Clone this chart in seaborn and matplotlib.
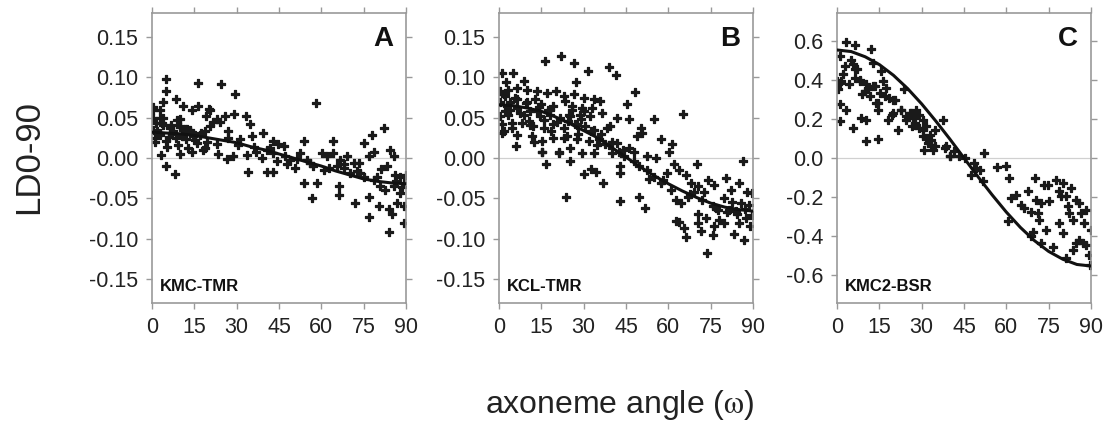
import matplotlib
matplotlib.use('Agg')
import matplotlib.pyplot as plt
import pandas as pd
import seaborn as sns

# ---- panel A: KMC-TMR ----
a_angle = [4.9, 5.0, 16.4, 24.4, 29.4, 58.2, 3.9, 8.6, 0.4, 2.7, 11, 14, 16.4, 20.3, 25.8, 29.1, 33.3, 34.7,
           0.4, 3.9, 9.8, 19.3, 22.9, 0.4, 2.7, 6.3, 9.8, 13.4, 15.2, 17.5, 20.5, 0.95, 5.1, 8.6, 12.2, 15.8,
           22.9, 27, 31.2, 35.3, 39.2, 43, 44.8, 46.6, 3.3, 9.8, 14, 18.1, 23.5, 26.4, 28.8, 33.5, 37, 38.9,
           40.6, 43, 44.2, 5.1, 8.1, 34.1, 40.6, 43, 47.8, 50.7, 53.7, 52.5, 56, 57.2, 53.7, 58.4, 56.6, 60.2,
           62, 64.3, 64.3, 66.7, 67.9, 69, 66.1, 66.1, 65.5, 71.4, 73.2, 75, 78, 82.1, 78.7, 76.8, 73.8, 75,
           72, 76.8, 76.8, 80.3, 79.7, 80.9, 83.3, 84.5, 85.7, 83.9, 85, 83.9, 86.9, 89.2, 89.2, 88, 89.2, 90,
           86.2, 82.7, 88, 85.7, 70.2, 78.6, 60.8, 49, 1.5, 6.8, 12.5, 18.8, 3.0, 7.5, 10.6, 14.6,
           0.5, 2.8, 4.0, 1.7, 1.0, 5.2, 8.7, 9.9, 10.5, 9.3, 13.5, 15.2, 17.0, 18.8, 20.5, 21.6, 24.0,
           7.2, 11.8, 3.5, 6.0, 12.9, 19.6, 26.8, 30.5, 36.2, 41.8, 47.0, 51.5, 55.0, 62.8, 68.0, 72.5, 81.0,
           86.5, 88.5]
a_ld = [0.098, 0.083, 0.093, 0.092, 0.079, 0.068, 0.070, 0.073, 0.063, 0.060, 0.065, 0.060, 0.065, 0.061,
        0.052, 0.055, 0.052, 0.042, 0.050, 0.050, 0.048, 0.052, 0.048, 0.035, 0.031, 0.0375, 0.040, 0.035,
        0.029, 0.031, 0.040, 0.025, 0.021, 0.025, 0.023, 0.019, 0.017, 0.025, 0.023, 0.027, 0.031, 0.021,
        0.017, 0.015, 0.004, 0.005, 0.008, 0.010, 0.005, -0.001, 0.002, 0.004, 0.008, 0.000, 0.010, 0.006,
        -0.004, -0.010, -0.020, -0.017, -0.017, -0.017, -0.008, -0.0125, 0.021, 0.006, -0.006, -0.010,
        -0.031, -0.031, -0.050, 0.006, 0.002, 0.021, 0.006, -0.002, -0.008, 0.002, -0.035, -0.046, -0.010,
        -0.006, -0.006, 0.019, 0.029, 0.0375, 0.008, 0.002, -0.019, -0.023, -0.056, -0.048, -0.073, -0.060,
        -0.023, -0.035, -0.010, 0.010, 0.002, -0.063, -0.069, -0.092, -0.056, -0.060, -0.081, -0.044,
        -0.031, -0.021, -0.021, -0.040, -0.023, -0.035, -0.019, -0.027, -0.015, -0.002, 0.044, 0.041,
        0.036, 0.033, 0.028, 0.034, 0.030, 0.027,
        0.060, 0.050, 0.041, 0.033, 0.020, 0.014, 0.0475, 0.039, 0.027, 0.016, 0.033, 0.0225, 0.029, 0.012,
        0.060, 0.045, 0.045, 0.030, 0.036, 0.044, 0.026, 0.012, 0.020, 0.033, 0.016, 0.014, 0.012, 0.002,
        -0.001, -0.003, -0.012, -0.012, -0.016, -0.014, -0.028, -0.036]
a_fit_angle = [0, 5, 10, 15, 20, 25, 30, 35, 40, 45, 50, 55, 60, 65, 70, 75, 80, 85, 90]
a_fit = [0.032, 0.031, 0.030, 0.028, 0.025, 0.022, 0.019, 0.014, 0.010, 0.005, 0.000, -0.005, -0.010,
         -0.016, -0.021, -0.026, -0.029, -0.031, -0.032]

# ---- panel B: KCL-TMR ----
b_angle = [0.9, 5.1, 16.4, 21.9, 26.7, 31.6, 38.9, 41.3, 27.4, 2.5, 8.7, 0.4, 3.3, 6.3, 9.8, 13.4, 17, 20.3,
           22.9, 26.4, 30, 33.5, 35.8, 48.2, 45.4, 0.4, 2.7, 6.3, 9.8, 12.7, 15, 19.1, 23.3, 25.7, 29.4, 32.9,
           0.4, 3.3, 7.5, 11.1, 14.6, 18.2, 21.7, 25.3, 28.8, 32.4, 36.5, 41.9, 46, 54.9, 65.2, 1, 4.5, 8.1,
           12.2, 15.8, 19.3, 22.9, 27, 30.6, 33.6, 39.5, 50.2, 1, 6.3, 11.6, 15.2, 19.3, 24, 27.5, 31.8, 35.3,
           37.7, 41.9, 46, 49, 50.8, 57.3, 61.4, 6, 15.2, 21.1, 25.3, 29.4, 33.6, 40.1, 44.3, 47.8, 52.5, 55.5,
           60.2, 16.7, 25, 30, 32.6, 34.5, 36.9, 42.8, 43, 49.6, 52.5, 54.9, 57.3, 59.7, 62, 63.8, 66.2, 70.1,
           68, 70.4, 72.7, 73.9, 76.3, 23.7, 42.7, 49.6, 51.7, 62.7, 64.4, 66.8, 69.2, 62.7, 63.8, 65.6, 66.2,
           70.4, 70.4, 71.5, 73.3, 73.7, 75.7, 76.3, 76, 77.5, 78.1, 86.6, 80.3, 82.1, 85, 88, 89.8, 79.7,
           82.7, 85.6, 88.6, 80.9, 84.4, 87.4, 89.8, 79.7, 83.2, 86.8, 88.9, 85, 2.0, 4.0, 10.5, 14.0, 18.0,
           24.5, 28.0, 36.0, 39.0, 44.0, 48.0, 53.0, 58.0, 61.0, 67.5, 72.0, 77.0, 81.5, 84.0, 87.0,
           1.7, 4.0, 2.2, 6.4, 8.8, 4.6, 1.7, 11.1, 13.5, 15.9, 12.3, 18.3, 20.6, 23.0, 24.8, 27.7, 30.1, 32.5,
           34.9, 38.4, 40.2, 42.6, 15.3, 21.2, 5.5, 9.5, 17.5, 26.0, 29.0]
b_ld = [0.106, 0.105, 0.121, 0.127, 0.118, 0.1075, 0.1125, 0.103, 0.094, 0.094, 0.096, 0.083, 0.085, 0.0875,
        0.085, 0.083, 0.081, 0.083, 0.077, 0.079, 0.075, 0.073, 0.071, 0.082, 0.0667, 0.069, 0.065, 0.073,
        0.069, 0.073, 0.067, 0.065, 0.071, 0.065, 0.0625, 0.0625, 0.052, 0.054, 0.056, 0.058, 0.052, 0.054,
        0.050, 0.052, 0.054, 0.052, 0.056, 0.050, 0.048, 0.048, 0.055, 0.042, 0.0375, 0.044, 0.040, 0.0375,
        0.042, 0.0375, 0.042, 0.040, 0.035, 0.040, 0.0375, 0.031, 0.029, 0.027, 0.021, 0.025, 0.027, 0.023,
        0.021, 0.023, 0.017, 0.019, 0.0125, 0.027, 0.031, 0.023, 0.017, 0.015, 0.008, 0.006, 0.0125, 0.006,
        0.006, 0.006, 0.002, 0.008, 0.002, 0.000, 0.008, -0.0075, -0.004, -0.0196, -0.014, -0.017, -0.031,
        -0.019, -0.010, -0.010, -0.015, -0.023, -0.031, -0.019, -0.008, -0.015, -0.021, -0.008, -0.031,
        -0.035, -0.042, -0.027, -0.033, -0.049, -0.053, -0.048, -0.062, -0.052, -0.056, -0.048, -0.042,
        -0.078, -0.079, -0.0875, -0.098, -0.069, -0.081, -0.090, -0.075, -0.1175, -0.060, -0.085, -0.096,
        -0.065, -0.077, -0.004, -0.025, -0.040, -0.031, -0.042, -0.044, -0.050, -0.054, -0.056, -0.058,
        -0.067, -0.069, -0.075, -0.071, -0.081, -0.094, -0.102, -0.085, -0.081, 0.077, 0.060, 0.046, 0.063,
        0.060, 0.046, 0.030, 0.030, 0.016, 0.010, -0.004, -0.026, -0.027, -0.040, -0.045, -0.052, -0.062,
        -0.064, -0.066, -0.063,
        0.079, 0.070, 0.058, 0.062, 0.054, 0.043, 0.033, 0.041, 0.058, 0.0475, 0.020, 0.033, 0.045, 0.025,
        0.054, 0.041, 0.058, 0.033, 0.016, 0.037, 0.020, 0.008, 0.008, 0.008, 0.075, 0.068, 0.060, 0.060,
        0.048]
b_fit_angle = [0, 5, 10, 15, 20, 25, 30, 35, 40, 45, 50, 55, 60, 65, 70, 75, 80, 85, 90]
b_fit = [0.066, 0.065, 0.062, 0.058, 0.051, 0.043, 0.034, 0.025, 0.013, 0.001, -0.011, -0.022, -0.032,
         -0.041, -0.049, -0.056, -0.061, -0.064, -0.066]

# ---- panel C: KMC2-BSR ----
c_angle = [3.3, 6.3, 12.1, 0.9, 5.1, 5.7, 7.1, 12.7, 15.7, 0, 1.5, 4.4, 6.3, 8, 10.4, 12.7, 16.3, 17.5, 0.4,
           0.9, 3.3, 0.9, 5.7, 8.6, 10.4, 10.4, 14.5, 9.8, 11.6, 13.9, 15.1, 18.6, 20.4, 14.5, 18, 20, 21.6,
           22.8, 23.9, 24.5, 26.3, 26.9, 27.5, 28.1, 29.2, 30.4, 31.6, 29.2, 30.4, 31, 32.2, 33.4, 34, 34.6,
           37.5, 38.7, 39.9, 41.6, 43.4, 45.2, 47.5, 48.7, 49.3, 50.5, 52.2, 51.7, 56.6, 59.9, 61.1, 61.7,
           63.4, 60.5, 65.2, 66.4, 67.6, 68.8, 70, 70.5, 71.3, 71.7, 72.3, 73.5, 74.6, 75.2, 74, 72.3, 77.6,
           78.8, 79.4, 80, 81.1, 81.7, 82.3, 82.9, 78.8, 80, 83.5, 84.7, 85.8, 86.4, 87.6, 88.2, 84.7, 83.5,
           85.8, 87, 88.2, 89.4, 89.6, 90, 81.1, 76.4, 69.3, 68.8, 2.0, 8.8, 19.5, 25.2, 27.8, 33.0,
           2.8, 6.4, 1.1, 8.1, 11.0, 13.4, 14.6, 17.0, 19.9, 22.8, 24.6, 25.8, 27.5, 26.4, 30.5, 31.7, 33.4,
           34.6, 38.1, 39.9]
c_ld = [0.597, 0.579, 0.561, 0.524, 0.506, 0.481, 0.455, 0.489, 0.446, 0.395, 0.395, 0.378, 0.412, 0.403,
        0.378, 0.369, 0.395, 0.361, 0.352, 0.275, 0.249, 0.189, 0.155, 0.206, 0.197, 0.086, 0.098, 0.343,
        0.318, 0.283, 0.335, 0.309, 0.300, 0.249, 0.197, 0.232, 0.146, 0.249, 0.352, 0.215, 0.232, 0.206,
        0.180, 0.249, 0.223, 0.197, 0.163, 0.155, 0.112, 0.043, 0.077, 0.094, 0.043, 0.060, 0.197, 0.060,
        0.009, 0.034, 0.009, 0.000, -0.086, -0.026, -0.052, -0.060, 0.026, -0.120, -0.046, -0.043, -0.103,
        -0.206, -0.189, -0.326, -0.240, -0.258, -0.172, -0.275, -0.103, -0.215, -0.283, -0.318, -0.232,
        -0.137, -0.137, -0.223, -0.369, -0.438, -0.112, -0.172, -0.197, -0.129, -0.197, -0.249, -0.283,
        -0.155, -0.335, -0.386, -0.318, -0.215, -0.232, -0.283, -0.335, -0.266, -0.438, -0.472, -0.421,
        -0.438, -0.446, -0.498, -0.549, -0.369, -0.515, -0.455, -0.378, -0.403, 0.43, 0.33, 0.22, 0.21,
        0.17, 0.12,
        0.472, 0.455, 0.386, 0.394, 0.352, 0.369, 0.283, 0.317, 0.300, 0.249, 0.197, 0.232, 0.214, 0.163,
        0.146, 0.103, 0.068, 0.146, 0.051, 0.008]
c_fit_angle = [0, 5, 10, 15, 20, 25, 30, 35, 40, 45, 50, 55, 60, 65, 70, 75, 80, 85, 90]
c_fit = [0.555, 0.547, 0.520, 0.480, 0.425, 0.357, 0.278, 0.190, 0.097, 0.000, -0.097, -0.190, -0.278,
         -0.357, -0.425, -0.480, -0.520, -0.547, -0.555]

panels = [
    ('A', 'KMC-TMR', a_angle, a_ld, a_fit_angle, a_fit, (-0.18, 0.18), [-0.15, -0.10, -0.05, 0.00, 0.05, 0.10, 0.15], '{:.2f}'),
    ('B', 'KCL-TMR', b_angle, b_ld, b_fit_angle, b_fit, (-0.18, 0.18), [-0.15, -0.10, -0.05, 0.00, 0.05, 0.10, 0.15], '{:.2f}'),
    ('C', 'KMC2-BSR', c_angle, c_ld, c_fit_angle, c_fit, (-0.745, 0.745), [-0.6, -0.4, -0.2, 0.0, 0.2, 0.4, 0.6], '{:.1f}'),
]
lefts = [152, 499, 837]


def draw_panel(ax, letter, name, x, y, fx, fy, ylim, yticks, fmt):
    pts = pd.DataFrame({'angle': x, 'ld': y})
    fit = pd.DataFrame({'angle': fx, 'ld': fy})
    ax.axhline(0, color='#d0d0d0', lw=0.9, zorder=0)
    sns.scatterplot(data=pts, x='angle', y='ld', marker='P', s=26, color='#1a1a1a',
                    edgecolor='#1a1a1a', linewidth=0.9, ax=ax, zorder=2)
    sns.lineplot(data=fit, x='angle', y='ld', color='#111111', lw=2.2, ax=ax, zorder=3)
    ax.set_xlim(0, 90)
    ax.set_ylim(*ylim)
    ax.set_xticks([0, 15, 30, 45, 60, 75, 90])
    ax.set_yticks(yticks)
    ax.set_yticklabels([fmt.format(t) for t in yticks])
    ax.set_xlabel('')
    ax.set_ylabel('')
    ax.tick_params(axis='both', labelsize=15.5, colors='#999999', labelcolor='#222222', length=4, width=1, pad=6)
    ax.tick_params(top=True, right=True, which='both')
    for sp in ax.spines.values():
        sp.set_color('#999999')
        sp.set_linewidth(1.2)
    ax.text(0.95, 0.955, letter, transform=ax.transAxes, ha='right', va='top', fontsize=20, fontweight='bold', color='#111111')
    ax.text(0.03, 0.03, name, transform=ax.transAxes, ha='left', va='bottom', fontsize=12, fontweight='bold', color='#111111')


def main():
    sns.set_style('ticks')
    plt.rcParams['font.family'] = ['Liberation Sans', 'DejaVu Sans']
    plt.rcParams['mathtext.fontset'] = 'stix'
    fig = plt.figure(figsize=(11.06, 4.30), dpi=100)
    for (letter, name, x, y, fx, fy, ylim, yticks, fmt), left in zip(panels, lefts):
        ax = fig.add_axes([left / 1106, 1 - 303 / 430, 254 / 1106, 290 / 430])
        draw_panel(ax, letter, name, x, y, fx, fy, ylim, yticks, fmt)
    fig.text(29 / 1106, 1 - 157 / 430, 'LD0-90', rotation=90, ha='center', va='center', fontsize=25, color='#222222')
    fig.text(620 / 1106, 1 - 405 / 430, r'axoneme angle ($\mathrm{\omega}$)', ha='center', va='center', fontsize=23, color='#222222')
    fig.savefig('out.png', dpi=100)


if __name__ == '__main__':
    main()
